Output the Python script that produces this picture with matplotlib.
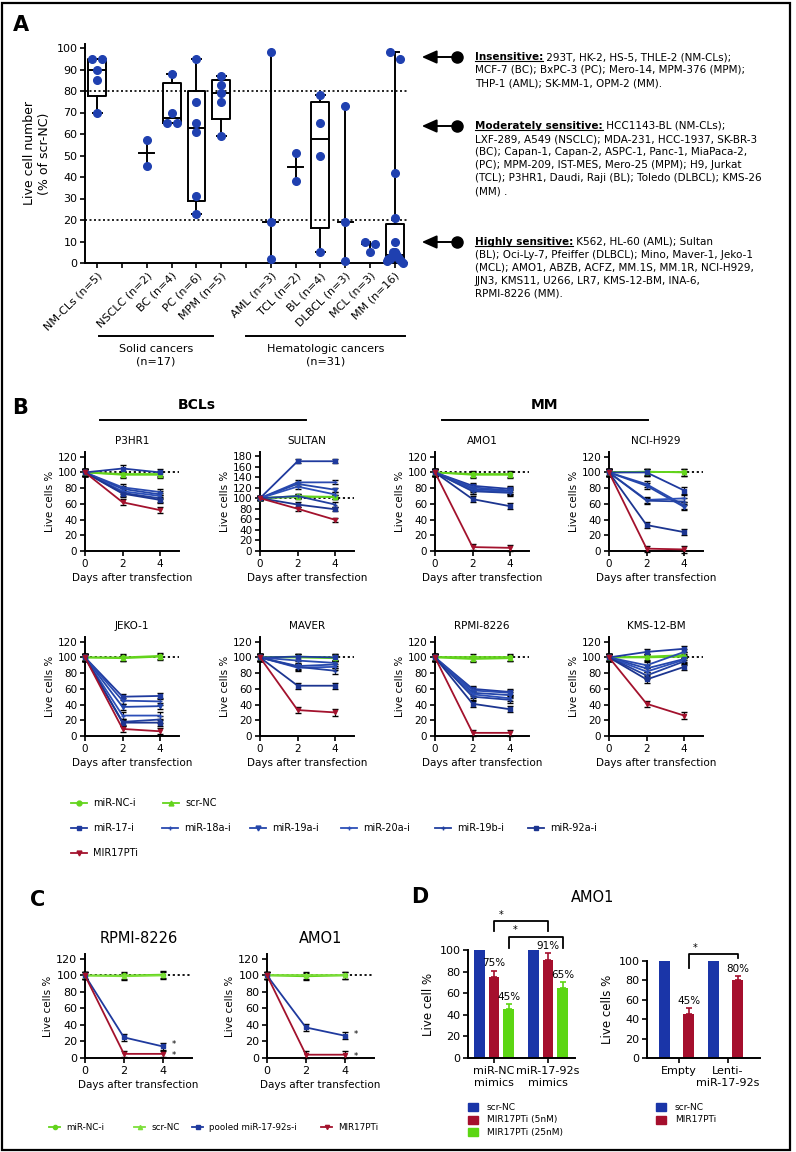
import numpy as np
import matplotlib
matplotlib.use('Agg')
import matplotlib.pyplot as plt
from matplotlib.lines import Line2D
from matplotlib.patches import Rectangle, FancyArrowPatch

plt.rcParams['font.family'] = 'DejaVu Sans'
plt.rcParams['axes.linewidth'] = 1.4

W, H = 796, 1152

BLUE = '#1f3a9e'
GREEN = '#63d41c'
RED = '#a3122d'
DOT = '#1f40b0'

# ---------------- panel A data ----------------
groups_a = ['NM-CLs', 'NSCLC', 'BC', 'PC', 'MPM', 'AML', 'TCL', 'BL', 'DLBCL', 'MCL', 'MM']
nm_cls = [95, 95, 90, 85, 70]
nsclc = [57, 45]
bc = [88, 70, 65, 65]
pc = [95, 75, 65, 61, 31, 23]
mpm = [87, 83, 79, 75, 59]
aml = [98, 19, 2]
tcl = [51, 38]
bl = [78, 65, 50, 5]
dlbcl = [73, 19, 1]
mcl = [10, 9, 5]
mm = [98, 95, 42, 21, 10, 5, 5, 4, 3, 3, 2, 2, 2, 1, 1, 0]
vals_a = [nm_cls, nsclc, bc, pc, mpm, aml, tcl, bl, dlbcl, mcl, mm]
solid = ['NSCLC', 'BC', 'PC', 'MPM']
hema = ['AML', 'TCL', 'BL', 'DLBCL', 'MCL', 'MM']

insensitive = ['293T, HK-2, HS-5, THLE-2 (NM-CLs);',
               'MCF-7 (BC); BxPC-3 (PC); Mero-14, MPM-376 (MPM);',
               'THP-1 (AML); SK-MM-1, OPM-2 (MM).']
moderate = ['HCC1143-BL (NM-CLs);',
            'LXF-289, A549 (NSCLC); MDA-231, HCC-1937, SK-BR-3',
            '(BC); Capan-1, Capan-2, ASPC-1, Panc-1, MiaPaca-2,',
            '(PC); MPM-209, IST-MES, Mero-25 (MPM); H9, Jurkat',
            '(TCL); P3HR1, Daudi, Raji (BL); Toledo (DLBCL); KMS-26',
            '(MM) .']
highly = ['K562, HL-60 (AML); Sultan',
          '(BL); Oci-Ly-7, Pfeiffer (DLBCL); Mino, Maver-1, Jeko-1',
          '(MCL); AMO1, ABZB, ACFZ, MM.1S, MM.1R, NCI-H929,',
          'JJN3, KMS11, U266, LR7, KMS-12-BM, INA-6,',
          'RPMI-8226 (MM).']

# ---------------- panel B data ----------------
days = [0, 2, 4]
series_b = ['miR-NC-i', 'scr-NC', 'miR-17-i', 'miR-18a-i', 'miR-19a-i',
            'miR-20a-i', 'miR-19b-i', 'miR-92a-i', 'MIR17PTi']
p3hr1 = [[100, 98, 98], [100, 97, 97], [100, 105, 100], [100, 81, 75], [100, 79, 72],
         [100, 76, 70], [100, 74, 67], [100, 73, 65], [100, 62, 52]]
sultan = [[100, 104, 102], [100, 102, 103], [100, 170, 170], [100, 130, 130], [100, 127, 116],
          [100, 122, 107], [100, 104, 88], [100, 88, 79], [100, 80, 59]]
amo1 = [[100, 98, 98], [100, 97, 97], [100, 83, 79], [100, 81, 77], [100, 79, 76],
        [100, 77, 75], [100, 76, 74], [100, 66, 57], [100, 5, 4]]
nci_h929 = [[100, 100, 100], [100, 101, 100], [100, 100, 77], [100, 85, 58], [100, 83, 56],
            [100, 65, 67], [100, 64, 63], [100, 33, 24], [100, 3, 2]]
jeko1 = [[100, 100, 102], [100, 99, 101], [100, 50, 51], [100, 45, 44], [100, 37, 38],
         [100, 26, 26], [100, 18, 21], [100, 17, 17], [100, 9, 6]]
maver = [[100, 101, 100], [100, 100, 99], [100, 101, 100], [100, 96, 93], [100, 89, 91],
         [100, 87, 88], [100, 88, 83], [100, 64, 64], [100, 33, 30]]
rpmi8226 = [[100, 100, 100], [100, 98, 99], [100, 60, 56], [100, 58, 55], [100, 55, 52],
            [100, 53, 48], [100, 50, 46], [100, 41, 34], [100, 4, 4]]
kms12bm = [[100, 100, 101], [100, 101, 103], [100, 107, 111], [100, 90, 107], [100, 86, 98],
           [100, 82, 97], [100, 77, 95], [100, 72, 88], [100, 41, 26]]
err_b = 4
cells_b = ['P3HR1', 'SULTAN', 'AMO1', 'NCI-H929', 'JEKO-1', 'MAVER', 'RPMI-8226', 'KMS-12-BM']
data_b = [p3hr1, sultan, amo1, nci_h929, jeko1, maver, rpmi8226, kms12bm]

# ---------------- panel C data ----------------
series_c = ['miR-NC-i', 'scr-NC', 'pooled miR-17-92s-i', 'MIR17PTi']
rpmi_c = [[100, 100, 101], [100, 99, 100], [100, 25, 14], [100, 5, 5]]
amo1_c = [[100, 99, 100], [100, 100, 100], [100, 37, 27], [100, 4, 4]]
err_c = 4

# ---------------- panel D data ----------------
groups_d1 = ['miR-NC\nmimics', 'miR-17-92s\nmimics']
series_d1 = ['scr-NC', 'MIR17PTi (5nM)', 'MIR17PTi (25nM)']
vals_d1 = [[100, 100], [75, 91], [45, 65]]
err_d1 = [[0, 0], [6, 6], [5, 5]]
groups_d2 = ['Empty', 'Lenti-\nmiR-17-92s']
series_d2 = ['scr-NC', 'MIR17PTi']
vals_d2 = [[100, 100], [45, 80]]
err_d2 = [[0, 0], [7, 5]]

fig = plt.figure(figsize=(W / 100, H / 100), dpi=100)


def fx(x):
    return x / W


def fy(y):
    return 1 - y / H


def add_ax(left, top, right, bottom):
    ax = fig.add_axes([fx(left), fy(bottom), (right - left) / W, (bottom - top) / H])
    ax.spines['top'].set_visible(False)
    ax.spines['right'].set_visible(False)
    ax.tick_params(direction='out', length=3.5, width=1.2, labelsize=7.5, pad=2)
    return ax


def ftext(x, y, s, **kw):
    return fig.text(fx(x), fy(y), s, **kw)


def fline(x0, x1, y0, y1, **kw):
    fig.add_artist(Line2D([fx(x0), fx(x1)], [fy(y0), fy(y1)], transform=fig.transFigure, **kw))


# frame
fig.add_artist(Rectangle((0.003, 0.002), 0.989, 0.995, transform=fig.transFigure,
                         fill=False, lw=1.6, ec='k'))

# ================= A =================
ftext(21, 25, 'A', fontsize=15, fontweight='bold', ha='center', va='center')
axA = add_ax(85, 263 - 102 * 2.15, 407, 263)
axA.set_ylim(0, 102)
axA.set_xlim(-0.5, 12.5)
axA.set_yticks(range(0, 101, 10))
axA.tick_params(labelsize=8)

pos_a = [i + (i >= 1) + (i >= 5) for i in range(len(groups_a))]


def spread(vals, thr=3.5):
    vals = np.asarray(vals, float)
    order = np.argsort(-vals, kind='stable')
    xs = np.zeros(len(vals))
    clusters, cur = [], [order[0]]
    for a, b in zip(order[:-1], order[1:]):
        if abs(vals[a] - vals[b]) < thr:
            cur.append(b)
        else:
            clusters.append(cur)
            cur = [b]
    clusters.append(cur)
    for c in clusters:
        k = len(c)
        if k > 1:
            half = 0.2 if k == 2 else 0.32
            offs = np.linspace(-half, half, k)
            offs = offs[np.argsort(np.abs(offs), kind='stable')]
            xs[c] = offs
    return xs


for p, name, v in zip(pos_a, groups_a, vals_a):
    v = np.asarray(v, float)
    med = np.median(v)
    if len(v) > 3:
        q1, q3 = np.percentile(v, [25, 75], method='weibull')
        st = dict(med=med, q1=q1, q3=q3, whislo=v.min(), whishi=v.max(), fliers=[])
        lp = dict(color='k', lw=1.4)
        axA.bxp([st], positions=[p], widths=0.72, showfliers=False, capwidths=0.35,
                boxprops=lp, medianprops=lp, whiskerprops=lp, capprops=lp, manage_ticks=False)
    else:
        axA.plot([p, p], [v.min(), v.max()], color='k', lw=1.4)
        axA.plot([p - 0.3, p + 0.3], [med, med], color='k', lw=1.4)
    axA.plot(p + spread(v), v, 'o', color=DOT, ms=5.5, zorder=5, clip_on=False)

for yl in (80, 20):
    axA.axhline(yl, color='k', ls=(0, (1.2, 1.5)), lw=1.2, zorder=1)

axA.set_xticks(range(13))
lab = [''] * 13
for p, name, v in zip(pos_a, groups_a, vals_a):
    lab[p] = f'{name} (n={len(v)})'
axA.set_xticklabels(lab, rotation=45, ha='right', rotation_mode='anchor', fontsize=8)
axA.set_ylabel('Live cell number\n(% of scr-NC)', fontsize=9, labelpad=4)

n_solid = sum(len(v) for g, v in zip(groups_a, vals_a) if g in solid)
n_hema = sum(len(v) for g, v in zip(groups_a, vals_a) if g in hema)
fline(99, 213, 336, 336, color='k', lw=1.4)
fline(246, 405, 336, 336, color='k', lw=1.4)
ftext(156, 355, f'Solid cancers\n(n={n_solid})', fontsize=8, ha='center', va='center', linespacing=1.3)
ftext(326, 355, f'Hematologic cancers\n(n={n_hema})', fontsize=8, ha='center', va='center', linespacing=1.3)

renderer = fig.canvas.get_renderer()


def sens_block(y, head, lines):
    fig.add_artist(FancyArrowPatch((fx(456), fy(y)), (fx(419), fy(y)), transform=fig.transFigure,
                                   arrowstyle='-|>,head_length=0.9,head_width=0.4',
                                   mutation_scale=10, lw=1.4, color='k'))
    fig.add_artist(Line2D([fx(457)], [fy(y)], marker='o', ms=8, color='k', transform=fig.transFigure))
    t = ftext(475, y, head, fontsize=7.5, fontweight='bold', va='center', ha='left')
    bb = t.get_window_extent(renderer)
    fig.add_artist(Line2D([bb.x0 / W, bb.x1 / W], [(bb.y0 + 1.5) / H] * 2,
                          transform=fig.transFigure, color='k', lw=0.8))
    fig.text(bb.x1 / W, fy(y), ' ' + lines[0], fontsize=7.5, va='center', ha='left')
    for k, s in enumerate(lines[1:]):
        ftext(475, y + 13 * (k + 1), s, fontsize=7.5, va='center', ha='left')


sens_block(57, 'Insensitive:', insensitive)
sens_block(126, 'Moderately sensitive:', moderate)
sens_block(242, 'Highly sensitive:', highly)

# ================= B =================
ftext(20, 408, 'B', fontsize=15, fontweight='bold', ha='center', va='center')
ftext(197, 405, 'BCLs', fontsize=10, fontweight='bold', ha='center', va='center')
ftext(545, 405, 'MM', fontsize=10, fontweight='bold', ha='center', va='center')
fline(100, 306, 420, 420, color='k', lw=1.4)
fline(442, 648, 420, 420, color='k', lw=1.4)

colors_b = [GREEN, GREEN, BLUE, '#2a4ab0', '#2446aa', '#2c4fb8', '#22409f', '#1c3590', RED]
markers_b = ['o', '^', 's', '+', 'v', '+', '+', 's', 'v']
draw_order = [2, 3, 4, 5, 6, 7, 0, 1, 8]


def line_panel(ax, data, colors, markers, err, order, ms=3):
    ax.axhline(100, color='k', ls=(0, (1.2, 1.5)), lw=1.3, zorder=1)
    for i in order:
        c = ax.errorbar(days, data[i], yerr=err, color=colors[i], marker=markers[i], ms=ms,
                        mew=1, lw=1.3, ecolor='k', elinewidth=0.8, capsize=2, capthick=0.8,
                        zorder=3 + i * 0.01)
        for a in c.get_children():
            a.set_clip_on(False)
    ax.set_xticks([0, 2, 4])


cols_x = [85, 260, 435, 609]
rows_y = [(452, 551), (637, 736)]
for k, (cell, data) in enumerate(zip(cells_b, data_b)):
    r, c = divmod(k, 4)
    top, bot = rows_y[r]
    ax = add_ax(cols_x[c], top, cols_x[c] + 94, bot)
    line_panel(ax, data, colors_b, markers_b, err_b, draw_order)
    ax.set_xlim(0, 5)
    if cell == 'SULTAN':
        ax.set_ylim(0, 187.5)
        ax.set_yticks(range(0, 181, 20))
    else:
        ax.set_ylim(0, 126)
        ax.set_yticks(range(0, 121, 20))
    ax.set_title(cell, fontsize=7.5, pad=6)
    ax.set_xlabel('Days after transfection', fontsize=7.5, labelpad=3)
    ax.set_ylabel('Live cells %', fontsize=7.5, labelpad=2)


def legend_entry(x0, y, label, color, marker, hl=16, gap=6, fs=7, ms=3.5):
    fig.add_artist(Line2D([fx(x0), fx(x0 + hl / 2), fx(x0 + hl)], [fy(y)] * 3, color=color,
                          lw=1.3, marker=marker, ms=ms, markevery=[1], transform=fig.transFigure))
    ftext(x0 + hl + gap, y, label, fontsize=fs, va='center', ha='left')


leg_pos_b = [(71, 803), (163, 803), (71, 828), (162, 828), (250, 828), (341, 828),
             (435, 828), (528, 828), (71, 853)]
for (x0, y), name, col, mk in zip(leg_pos_b, series_b, colors_b, markers_b):
    legend_entry(x0, y, name, col, mk)

# ================= C =================
ftext(38, 900, 'C', fontsize=15, fontweight='bold', ha='center', va='center')
colors_c = [GREEN, '#7ddf3a', BLUE, RED]
markers_c = ['o', '^', 's', 'v']
for left, cell, data in [(85, 'RPMI-8226', rpmi_c), (267, 'AMO1', amo1_c)]:
    ax = add_ax(left, 954, left + 107, 1058)
    line_panel(ax, data, colors_c, markers_c, err_c, [2, 3, 0, 1])
    ax.set_xlim(0, 5.5)
    ax.set_ylim(0, 126)
    ax.set_yticks(range(0, 121, 20))
    ax.tick_params(labelsize=8)
    ax.set_title(cell, fontsize=10.5, pad=8)
    ax.set_xlabel('Days after transfection', fontsize=7.5, labelpad=3)
    ax.set_ylabel('Live cells %', fontsize=7.5, labelpad=2)
    ax.text(4.45, data[2][-1] + 2, '*', fontsize=6, ha='left', va='center')
    ax.text(4.45, data[3][-1] - 2.5, '*', fontsize=6, ha='left', va='center')

leg_pos_c = [(49, 1127), (134, 1127), (192, 1127), (321, 1127)]
for (x0, y), name, col, mk in zip(leg_pos_c, series_c, colors_c, markers_c):
    legend_entry(x0, y, name, col, mk, hl=11, gap=6, fs=6.3, ms=3)

# ================= D =================
ftext(420, 897, 'D', fontsize=15, fontweight='bold', ha='center', va='center')
ftext(593, 897, 'AMO1', fontsize=10.5, ha='center', va='center')
colors_d = ['#1a35a8', '#a50f2d', '#5cd613']

axD1 = add_ax(468, 950, 575, 1058)
axD1.set_xlim(-0.48, 1.5)
axD1.set_ylim(0, 100)
offs1 = [-0.27, 0, 0.27]
x1 = np.arange(len(groups_d1))
for j, (vals, err, col) in enumerate(zip(vals_d1, err_d1, colors_d)):
    xs = x1 + offs1[j]
    axD1.bar(xs, vals, width=0.2, color=col, zorder=2)
    if j > 0:
        axD1.errorbar(xs, vals, yerr=[[0] * len(vals), err], fmt='none', ecolor=col,
                      elinewidth=1.2, capsize=2.5, capthick=1.2, zorder=2)
        for xx, v, e in zip(xs, vals, err):
            axD1.text(xx, v + e + 2, f'{v}%', fontsize=7.5, ha='center', va='bottom', zorder=4)
axD1.set_xticks(x1)
axD1.set_xticklabels(groups_d1, fontsize=8, linespacing=1.3)
axD1.set_yticks(range(0, 101, 20))
axD1.tick_params(labelsize=8)
axD1.set_ylabel('Live cell %', fontsize=8.5, labelpad=3)


def bracket(ax, xa, xb, ytop, ya, yb):
    ax.plot([xa, xa, xb, xb], [ya, ytop, ytop, yb], color='k', lw=1.3, clip_on=False)
    ax.text(xa + 0.08, ytop + 1, '*', fontsize=7, ha='left', va='bottom')


bracket(axD1, x1[0] + offs1[1], x1[1] + offs1[1], 127, 118, 118)
bracket(axD1, x1[0] + offs1[2], x1[1] + offs1[2], 112.5, 102, 102)

axD2 = add_ax(647, 961, 760, 1058)
axD2.set_xlim(-0.65, 1.65)
axD2.set_ylim(0, 100)
offs2 = [-0.3, 0.2]
x2 = np.arange(len(groups_d2))
for j, (vals, err, col) in enumerate(zip(vals_d2, err_d2, colors_d)):
    xs = x2 + offs2[j]
    axD2.bar(xs, vals, width=0.22, color=col, zorder=2)
    if j > 0:
        axD2.errorbar(xs, vals, yerr=[[0] * len(vals), err], fmt='none', ecolor=col,
                      elinewidth=1.2, capsize=2.5, capthick=1.2, zorder=2)
        for xx, v, e in zip(xs, vals, err):
            axD2.text(xx, v + e + 2, f'{v}%', fontsize=7.5, ha='center', va='bottom')
axD2.set_xticks(x2)
axD2.set_xticklabels(groups_d2, fontsize=8, linespacing=1.3)
axD2.set_yticks(range(0, 101, 20))
axD2.tick_params(labelsize=8)
axD2.set_ylabel('Live cells %', fontsize=8.5, labelpad=3)
bracket(axD2, x2[0] + offs2[1], x2[1] + offs2[1], 107, 93, 103)


def square_entry(x0, y, label, color):
    fig.add_artist(Rectangle((fx(x0), fy(y + 4)), 10 / W, 8 / H, transform=fig.transFigure,
                             color=color))
    ftext(x0 + 19, y, label, fontsize=6.5, va='center', ha='left')


for k, (name, col) in enumerate(zip(series_d1, colors_d)):
    square_entry(468, 1107 + 12.5 * k, name, col)
for k, (name, col) in enumerate(zip(series_d2, colors_d)):
    square_entry(656, 1107 + 12.5 * k, name, col)

fig.savefig('out.png', dpi=100)
